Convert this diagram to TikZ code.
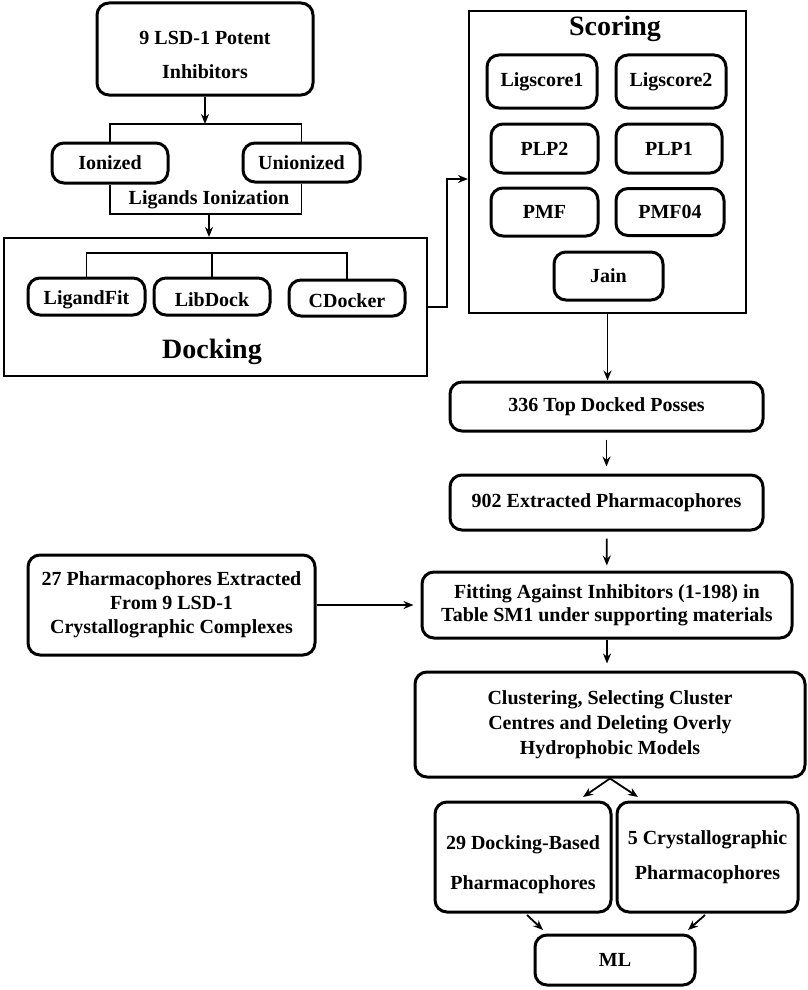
\documentclass[tikz,border=0pt]{standalone}
\usepackage{fontspec}
\setmainfont{Liberation Serif}
\usetikzlibrary{arrows.meta}
\newlength{\du}
\setlength{\du}{1pt}
\definecolor{dialinecolor}{rgb}{0.000000, 0.000000, 0.000000}
\tikzset{
  rbox/.style={draw=dialinecolor, line width=3\du, rounded corners=12\du, inner sep=0pt, align=center, font=\bfseries\fontsize{20}{24}\selectfont},
  panel/.style={draw=dialinecolor, line width=2\du, inner sep=0pt},
  heading/.style={inner sep=0pt, font=\bfseries\fontsize{28}{32}\selectfont},
  wire/.style={draw=dialinecolor, line width=1.8\du},
  flow/.style={wire, -{Stealth[length=10pt,width=8pt]}},
}

\begin{document}
\begin{tikzpicture}
\pgftransformxscale{1.000000}
\pgftransformyscale{-1.000000}
\useasboundingbox (0\du,0\du) rectangle (808\du,990\du);
% ligands
\node[rbox, minimum width=216\du, minimum height=92\du, text height=60\du, font=\bfseries\fontsize{20}{34}\selectfont] (inhib) at (205\du,49\du) {9 LSD-1 Potent\\Inhibitors};
\node[rbox, minimum width=116\du, minimum height=40\du] (ion) at (110\du,163\du) {Ionized};
\node[rbox, minimum width=117\du, minimum height=39\du] (union) at (301.5\du,162.5\du) {Unionized};
\node[inner sep=0pt, font=\bfseries\fontsize{20}{24}\selectfont] (ligion) at (209\du,200\du) {Ligands Ionization};
\coordinate (brk1) at (205\du,124\du);
\coordinate (brk2) at (209\du,214\du);
\draw[flow] (inhib.south) -- (brk1);
\draw[wire] (ion.north) |- (brk1) -| (union.north);
\draw[wire] (ion.south) |- (brk2) -| (union.south);
% docking
\node[panel, minimum width=423\du, minimum height=138\du] (dockbox) at (215.5\du,307\du) {};
\node[heading] (docktitle) at (212\du,352\du) {Docking};
\node[rbox, minimum width=117\du, minimum height=37\du, text height=20\du] (lfit) at (86.5\du,296.5\du) {LigandFit};
\node[rbox, minimum width=116\du, minimum height=37\du, text height=20\du] (ldock) at (212\du,296.5\du) {LibDock};
\node[rbox, minimum width=116\du, minimum height=36\du, text height=20\du] (cdock) at (347\du,298\du) {CDocker};
\coordinate (brk3) at (211\du,253\du);
\draw[flow] (brk2) -- (brk2 |- dockbox.north);
\draw[wire] (lfit.north) |- (brk3) -| (cdock.north);
\draw[wire] (ldock.north) -- (ldock.north |- brk3);
% scoring
\node[panel, minimum width=277\du, minimum height=302\du] (scorebox) at (607.5\du,162\du) {};
\node[heading] (scoretitle) at (615\du,29\du) {Scoring};
\node[rbox, minimum width=110\du, minimum height=53\du] (ls1) at (542\du,81.5\du) {Ligscore1};
\node[rbox, minimum width=110\du, minimum height=53\du] (ls2) at (671\du,81.5\du) {Ligscore2};
\node[rbox, minimum width=107\du, minimum height=49\du] (plp2) at (544.5\du,148.5\du) {PLP2};
\node[rbox, minimum width=106\du, minimum height=49\du] (plp1) at (669\du,148.5\du) {PLP1};
\node[rbox, minimum width=107\du, minimum height=48\du] (pmf) at (544.5\du,212\du) {PMF};
\node[rbox, minimum width=108\du, minimum height=47\du] (pmf04) at (670\du,212\du) {PMF04};
\node[rbox, minimum width=109\du, minimum height=48\du] (jain) at (608.5\du,276\du) {Jain};
\coordinate (bend) at (447\du,179\du);
\draw[flow] (dockbox.east) -| (bend) -- (scorebox.west |- bend);
% pharmacophores
\node[rbox, minimum width=313\du, minimum height=49\du] (top336) at (606.5\du,406.5\du) {336 Top Docked Posses};
\node[rbox, minimum width=313\du, minimum height=55\du] (extr902) at (606.5\du,502.5\du) {902 Extracted Pharmacophores};
\node[rbox, minimum width=370\du, minimum height=66\du, font=\bfseries\fontsize{20}{23}\selectfont] (fit) at (607\du,605\du) {Fitting Against Inhibitors (1-198) in\\Table SM1 under supporting materials};
\node[rbox, minimum width=287\du, minimum height=100\du] (crys27) at (171.5\du,605\du) {27 Pharmacophores Extracted\\From 9 LSD-1\\Crystallographic Complexes};
\node[rbox, minimum width=390\du, minimum height=105\du, font=\bfseries\fontsize{20}{25}\selectfont] (clust) at (610\du,724.5\du) {Clustering, Selecting Cluster\\Centres and Deleting Overly\\Hydrophobic Models};
\node[rbox, minimum width=176\du, minimum height=110\du, text height=70\du, font=\bfseries\fontsize{20}{40}\selectfont] (dock29) at (523\du,857\du) {29 Docking-Based\\Pharmacophores};
\node[rbox, minimum width=181\du, minimum height=110\du, font=\bfseries\fontsize{20}{35}\selectfont] (crys5) at (707.5\du,857\du) {5 Crystallographic\\Pharmacophores};
\node[rbox, minimum width=160\du, minimum height=50\du] (ml) at (615\du,960\du) {ML};
\coordinate (d1) at (583\du,797\du);
\coordinate (d2) at (638\du,797\du);
\coordinate (m1) at (527\du,915\du);
\coordinate (m2) at (543\du,930\du);
\coordinate (m3) at (705\du,915\du);
\coordinate (m4) at (688\du,930\du);
\draw[flow] (scorebox.south) -- (scorebox.south |- top336.north);
\draw[flow, shorten <=7\du, shorten >=7\du] (top336) -- (extr902);
\draw[flow, shorten <=7\du, shorten >=5\du] (extr902) -- (fit);
\draw[flow, shorten >=7\du] (crys27) -- (fit);
\draw[flow, shorten >=7\du] (fit.south) -- (fit.south |- clust.north);
\draw[flow] (clust.south) -- (d1);
\draw[flow] (clust.south) -- (d2);
\draw[flow] (m1) -- (m2);
\draw[flow] (m3) -- (m4);
\end{tikzpicture}
\end{document}
